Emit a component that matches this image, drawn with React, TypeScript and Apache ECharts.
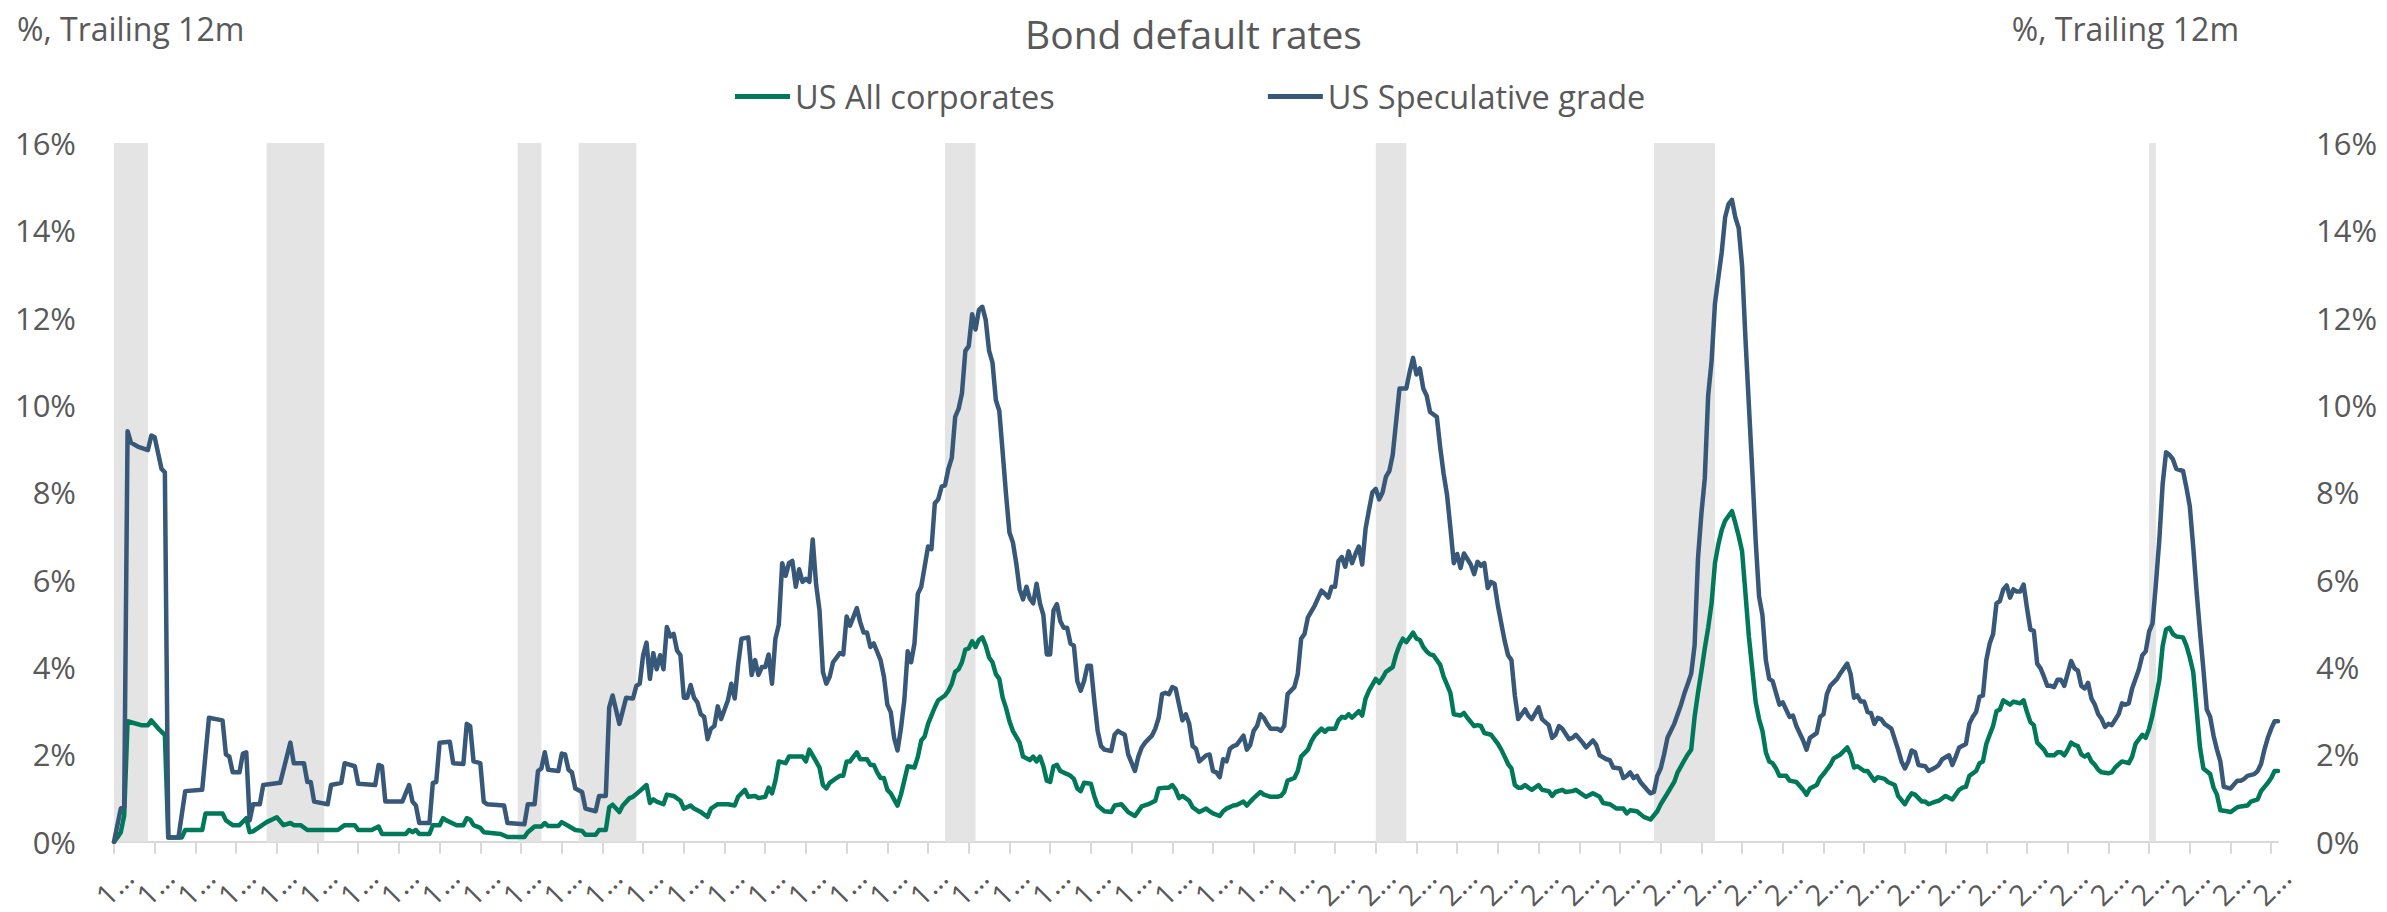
import React, { useEffect, useRef } from 'react';
import * as echarts from 'echarts';

const FONT = "'Open Sans', 'Noto Sans', sans-serif";
const TEXT_COLOR = '#595959';
const GREEN = '#00785A';
const BLUE = '#375878';
const BAND = '#e4e4e4';

// Monthly categories, Jan 1970 .. Mar 2023
const START_YEAR = 1970;
const MONTH_COUNT = 639;
const months: string[] = Array.from({ length: MONTH_COUNT }, (_, i) => {
  const y = START_YEAR + Math.floor(i / 12);
  const m = (i % 12) + 1;
  return `${y}-${m < 10 ? '0' + m : m}`;
});

const chartTitle = 'Bond default rates';
const axisUnit = '%, Trailing 12m';
const seriesNames = ['US All corporates', 'US Speculative grade'];

// Recession shading (first month, last month)
const recessions: [string, string][] = [
  ['1970-01', '1970-11'],
  ['1973-10', '1975-03'],
  ['1979-12', '1980-07'],
  ['1981-06', '1982-11'],
  ['1990-06', '1991-03'],
  ['2001-01', '2001-10'],
  ['2007-11', '2009-05'],
  ['2020-01', '2020-03'],
];

// [months since Jan 1970, default rate %]
const allCorporates: [number, number][] = [
  [0, 0], [1, 0.1], [2, 0.22], [3, 0.6], [4, 2.76], [8, 2.67], [10, 2.67], [11, 2.78], [13, 2.6], [14, 2.52], [15, 2.45],
  [16, 0.1], [20, 0.1], [21, 0.27], [26, 0.27], [27, 0.65], [32, 0.65], [33, 0.49], [35, 0.38], [37, 0.38], [39, 0.54],
  [40, 0.22], [41, 0.24], [45, 0.45], [48, 0.56], [50, 0.38], [52, 0.43], [53, 0.38], [55, 0.38], [57, 0.27], [66, 0.27],
  [68, 0.38], [71, 0.38], [72, 0.27], [76, 0.27], [78, 0.35], [79, 0.18], [86, 0.18], [87, 0.27], [88, 0.22], [89, 0.27],
  [90, 0.18], [93, 0.18], [94, 0.38], [96, 0.38], [97, 0.54], [98, 0.49], [101, 0.38], [103, 0.38], [104, 0.54], [105, 0.51],
  [106, 0.38], [108, 0.32], [109, 0.22], [114, 0.18], [116, 0.11], [121, 0.11], [122, 0.22], [124, 0.35], [126, 0.35],
  [127, 0.43], [128, 0.36], [131, 0.36], [132, 0.45], [134, 0.36], [136, 0.27], [138, 0.25], [139, 0.16], [142, 0.16],
  [143, 0.27], [145, 0.27], [146, 0.79], [147, 0.85], [149, 0.68], [150, 0.83], [152, 1.0], [153, 1.03], [155, 1.16],
  [157, 1.3], [158, 0.89], [159, 0.97], [160, 0.92], [162, 0.86], [163, 1.08], [165, 1.05], [167, 0.94], [168, 0.76],
  [170, 0.83], [171, 0.76], [173, 0.68], [175, 0.57], [176, 0.76], [178, 0.86], [181, 0.86], [183, 0.83], [184, 1.03],
  [186, 1.19], [187, 1.03], [189, 1.05], [190, 1.0], [192, 1.03], [193, 1.24], [194, 1.11], [195, 1.4], [196, 1.84],
  [198, 1.8], [199, 1.95], [203, 1.95], [204, 1.84], [205, 2.11], [207, 1.84], [208, 1.7], [209, 1.3], [210, 1.22],
  [211, 1.35], [213, 1.46], [214, 1.51], [215, 1.51], [216, 1.84], [217, 1.84], [219, 2.05], [220, 1.89], [222, 1.89],
  [223, 1.76], [224, 1.76], [225, 1.59], [226, 1.46], [227, 1.46], [228, 1.19], [229, 1.11], [231, 0.83], [232, 1.08],
  [233, 1.4], [234, 1.73], [236, 1.7], [237, 1.95], [238, 2.32], [239, 2.41], [240, 2.7], [242, 3.08], [243, 3.24],
  [245, 3.35], [246, 3.46], [247, 3.62], [248, 3.89], [249, 3.95], [250, 4.11], [251, 4.4], [252, 4.43], [253, 4.59],
  [254, 4.46], [255, 4.62], [256, 4.68], [257, 4.49], [258, 4.22], [259, 4.11], [260, 3.84], [261, 3.73], [262, 3.3],
  [263, 3.06], [264, 2.76], [265, 2.54], [267, 2.27], [268, 1.95], [270, 1.87], [271, 1.95], [272, 1.84], [273, 1.95],
  [274, 1.73], [275, 1.4], [276, 1.37], [277, 1.73], [278, 1.76], [279, 1.62], [281, 1.55], [282, 1.51], [283, 1.44],
  [284, 1.22], [285, 1.16], [286, 1.35], [288, 1.33], [289, 1.05], [290, 0.83], [292, 0.7], [294, 0.68], [295, 0.83],
  [297, 0.86], [299, 0.68], [301, 0.59], [303, 0.81], [305, 0.86], [307, 0.94], [308, 1.22], [310, 1.24], [311, 1.24],
  [312, 1.3], [313, 1.19], [314, 1.0], [315, 1.05], [317, 0.94], [318, 0.79], [320, 0.68], [322, 0.76], [323, 0.7],
  [324, 0.65], [326, 0.59], [327, 0.7], [328, 0.76], [330, 0.83], [331, 0.84], [333, 0.92], [334, 0.83], [335, 0.92],
  [336, 1.0], [338, 1.14], [339, 1.08], [341, 1.03], [343, 1.03], [344, 1.05], [345, 1.14], [346, 1.4], [348, 1.46],
  [349, 1.62], [350, 1.95], [352, 2.11], [353, 2.3], [354, 2.43], [356, 2.59], [357, 2.52], [358, 2.59], [360, 2.59],
  [361, 2.78], [362, 2.86], [363, 2.84], [364, 2.92], [365, 2.84], [367, 2.99], [368, 2.89], [369, 3.28], [370, 3.46],
  [372, 3.73], [373, 3.64], [374, 3.75], [375, 3.89], [377, 4.0], [378, 4.29], [379, 4.5], [380, 4.65], [381, 4.57],
  [383, 4.79], [384, 4.65], [385, 4.62], [386, 4.46], [387, 4.36], [388, 4.29], [389, 4.27], [391, 4.05], [392, 3.78],
  [393, 3.6], [394, 3.41], [395, 2.92], [397, 2.89], [398, 2.95], [399, 2.84], [401, 2.65], [402, 2.67], [403, 2.65],
  [404, 2.49], [406, 2.45], [408, 2.24], [409, 2.11], [410, 1.95], [411, 1.78], [412, 1.68], [413, 1.3], [414, 1.24],
  [415, 1.24], [416, 1.3], [417, 1.24], [418, 1.19], [420, 1.3], [421, 1.19], [423, 1.16], [424, 1.05], [425, 1.14],
  [427, 1.19], [428, 1.14], [430, 1.16], [431, 1.19], [433, 1.08], [434, 1.03], [436, 1.11], [438, 1.03], [439, 0.89],
  [441, 0.86], [443, 0.76], [445, 0.76], [446, 0.65], [447, 0.72], [449, 0.7], [451, 0.57], [453, 0.51], [455, 0.7],
  [456, 0.86], [458, 1.11], [460, 1.37], [461, 1.59], [463, 1.87], [464, 2.0], [465, 2.11], [466, 2.86], [467, 3.41],
  [468, 3.9], [469, 4.43], [470, 4.9], [471, 5.46], [472, 6.38], [473, 6.81], [474, 7.14], [475, 7.35], [476, 7.46],
  [477, 7.57], [478, 7.3], [479, 7.0], [480, 6.65], [481, 5.68], [482, 4.7], [483, 3.95], [484, 3.2], [485, 2.81],
  [486, 2.54], [487, 2.05], [488, 1.84], [489, 1.8], [490, 1.68], [491, 1.51], [493, 1.51], [494, 1.4], [496, 1.37],
  [498, 1.19], [499, 1.08], [500, 1.22], [502, 1.3], [503, 1.46], [504, 1.55], [506, 1.76], [507, 1.91], [509, 2.0],
  [511, 2.16], [512, 2.0], [513, 1.7], [514, 1.73], [516, 1.62], [517, 1.62], [518, 1.51], [519, 1.4], [520, 1.48],
  [522, 1.44], [523, 1.37], [525, 1.3], [526, 1.05], [528, 0.86], [529, 1.0], [530, 1.11], [531, 1.08], [533, 0.92],
  [534, 0.92], [535, 0.86], [537, 0.92], [538, 0.94], [540, 1.05], [542, 0.97], [543, 1.08], [544, 1.19], [545, 1.24],
  [546, 1.26], [547, 1.51], [549, 1.62], [550, 1.8], [551, 1.84], [552, 2.24], [553, 2.45], [554, 2.65], [555, 2.99],
  [556, 3.03], [557, 3.24], [559, 3.14], [560, 3.21], [561, 3.19], [562, 3.17], [563, 3.24], [564, 2.97], [565, 2.74],
  [566, 2.67], [567, 2.27], [568, 2.19], [569, 2.11], [570, 1.98], [572, 1.98], [573, 2.05], [574, 2.05], [575, 1.98],
  [576, 2.11], [577, 2.27], [578, 2.22], [579, 2.19], [580, 2.0], [581, 1.95], [582, 2.0], [583, 1.84], [584, 1.76],
  [585, 1.65], [586, 1.59], [588, 1.57], [589, 1.59], [590, 1.7], [592, 1.84], [594, 1.8], [595, 1.95], [596, 2.24],
  [598, 2.45], [599, 2.38], [600, 2.59], [601, 2.9], [602, 3.3], [603, 3.7], [604, 4.49], [605, 4.86], [606, 4.9],
  [607, 4.76], [608, 4.7], [610, 4.68], [611, 4.49], [612, 4.22], [613, 3.89], [614, 3.03], [615, 2.16], [616, 1.68],
  [618, 1.55], [619, 1.24], [620, 1.08], [621, 0.72], [623, 0.7], [624, 0.68], [626, 0.79], [627, 0.81], [629, 0.83],
  [630, 0.92], [632, 0.97], [633, 1.16], [635, 1.35], [636, 1.46], [637, 1.62], [638, 1.62],
];

const speculativeGrade: [number, number][] = [
  [0, 0], [2, 0.76], [3, 0.8], [4, 9.4], [5, 9.14], [7, 9.05], [10, 8.97], [11, 9.3], [12, 9.26], [14, 8.54], [15, 8.46],
  [16, 0.1], [19, 0.1], [21, 1.16], [26, 1.19], [28, 2.84], [32, 2.78], [33, 2.0], [34, 1.95], [35, 1.59], [37, 1.59],
  [38, 2.02], [39, 2.05], [40, 0.49], [41, 0.86], [43, 0.86], [44, 1.3], [49, 1.35], [52, 2.27], [53, 1.8], [56, 1.8],
  [57, 1.37], [58, 1.37], [59, 0.92], [63, 0.86], [64, 1.3], [67, 1.35], [68, 1.8], [71, 1.73], [72, 1.33], [77, 1.3],
  [78, 1.76], [79, 1.73], [80, 0.92], [85, 0.92], [87, 1.3], [88, 0.92], [89, 0.83], [90, 0.43], [93, 0.43], [94, 1.35],
  [95, 1.37], [96, 2.27], [99, 2.29], [100, 1.8], [103, 1.78], [104, 2.7], [105, 2.65], [106, 1.84], [108, 1.8],
  [109, 0.92], [110, 0.86], [115, 0.83], [116, 0.43], [121, 0.4], [122, 0.86], [124, 0.86], [125, 1.62], [126, 1.68],
  [127, 2.05], [128, 1.65], [131, 1.62], [132, 2.02], [133, 2.0], [134, 1.65], [135, 1.59], [136, 1.22], [138, 1.14],
  [139, 0.76], [142, 0.7], [143, 1.05], [145, 1.05], [146, 3.08], [147, 3.35], [149, 2.7], [151, 3.3], [153, 3.28],
  [154, 3.57], [155, 3.62], [156, 4.27], [157, 4.56], [158, 3.73], [159, 4.32], [160, 3.95], [161, 4.27], [162, 3.95],
  [163, 4.92], [164, 4.7], [165, 4.76], [166, 4.38], [167, 4.27], [168, 3.3], [169, 3.3], [170, 3.59], [171, 3.3],
  [172, 3.19], [173, 2.92], [174, 2.86], [175, 2.35], [176, 2.59], [177, 2.65], [178, 3.1], [179, 2.81], [181, 3.24],
  [182, 3.62], [183, 3.28], [184, 4.05], [185, 4.65], [187, 4.68], [188, 3.82], [189, 4.16], [190, 3.82], [191, 4.0],
  [192, 4.0], [193, 4.29], [194, 3.62], [195, 4.65], [196, 4.97], [197, 6.38], [198, 6.09], [199, 6.38], [200, 6.43],
  [201, 5.84], [202, 6.24], [203, 5.95], [204, 6.02], [205, 5.95], [206, 6.92], [207, 5.89], [208, 5.3], [209, 3.89],
  [210, 3.62], [211, 3.78], [212, 4.11], [214, 4.32], [215, 4.29], [216, 5.16], [217, 4.95], [219, 5.35], [220, 5.03],
  [221, 4.79], [222, 4.79], [223, 4.46], [224, 4.54], [226, 4.16], [227, 3.78], [228, 3.14], [229, 2.97], [230, 2.38],
  [231, 2.09], [232, 2.59], [233, 3.24], [234, 4.36], [235, 4.11], [236, 4.54], [237, 5.68], [238, 5.84], [240, 6.76],
  [241, 6.7], [242, 7.75], [243, 7.84], [244, 8.13], [245, 8.16], [246, 8.54], [247, 8.79], [248, 9.73], [249, 9.91],
  [250, 10.27], [251, 11.24], [252, 11.35], [253, 12.08], [254, 11.73], [255, 12.18], [256, 12.25], [257, 11.95],
  [258, 11.24], [259, 10.97], [260, 10.11], [261, 9.87], [262, 8.92], [263, 7.95], [264, 7.08], [265, 6.86], [266, 6.38],
  [267, 5.78], [268, 5.55], [269, 5.84], [270, 5.57], [271, 5.46], [272, 5.91], [273, 5.46], [274, 5.19], [275, 4.29],
  [276, 4.29], [277, 5.3], [278, 5.44], [279, 5.05], [280, 4.9], [281, 4.9], [282, 4.54], [283, 4.49], [284, 3.68],
  [285, 3.46], [286, 3.68], [287, 4.03], [288, 4.03], [289, 3.24], [290, 2.54], [291, 2.19], [292, 2.11], [294, 2.08],
  [295, 2.45], [296, 2.54], [297, 2.49], [298, 2.45], [299, 2.0], [301, 1.62], [302, 1.95], [303, 2.16], [304, 2.27],
  [306, 2.43], [307, 2.59], [308, 2.84], [309, 3.38], [310, 3.41], [311, 3.38], [312, 3.54], [313, 3.51], [314, 3.14],
  [315, 2.78], [316, 2.92], [317, 2.7], [318, 2.19], [319, 2.13], [320, 1.84], [322, 1.98], [323, 2.0], [324, 1.62],
  [325, 1.59], [326, 1.48], [327, 1.89], [328, 1.84], [329, 2.13], [330, 2.19], [331, 2.22], [333, 2.43], [334, 2.11],
  [335, 2.22], [336, 2.54], [337, 2.65], [338, 2.92], [339, 2.84], [340, 2.7], [341, 2.59], [343, 2.59], [344, 2.54],
  [345, 2.65], [346, 3.38], [347, 3.46], [348, 3.54], [349, 3.84], [350, 4.65], [351, 4.76], [352, 5.14], [354, 5.41],
  [356, 5.75], [357, 5.68], [358, 5.59], [359, 5.84], [360, 5.84], [361, 6.43], [362, 6.52], [363, 6.3], [364, 6.65],
  [365, 6.38], [366, 6.59], [367, 6.76], [368, 6.35], [369, 7.17], [370, 7.6], [371, 8.0], [372, 8.08], [373, 7.84],
  [374, 8.0], [375, 8.36], [376, 8.49], [377, 8.86], [378, 9.62], [379, 10.38], [381, 10.38], [382, 10.76], [383, 11.08],
  [384, 10.7], [385, 10.84], [386, 10.38], [387, 10.22], [388, 9.84], [390, 9.73], [391, 9.03], [392, 8.43], [393, 7.95],
  [394, 7.19], [395, 6.38], [396, 6.59], [397, 6.27], [398, 6.6], [400, 6.35], [401, 6.13], [402, 6.41], [403, 6.32],
  [404, 6.38], [405, 5.81], [406, 5.95], [407, 5.91], [408, 5.41], [409, 5.0], [410, 4.6], [411, 4.27], [412, 4.16],
  [413, 3.35], [414, 2.81], [415, 2.92], [416, 3.03], [417, 2.89], [418, 2.81], [420, 3.08], [421, 2.81], [422, 2.74],
  [423, 2.67], [424, 2.38], [425, 2.45], [426, 2.65], [427, 2.59], [429, 2.35], [430, 2.38], [431, 2.45], [433, 2.27],
  [434, 2.16], [436, 2.32], [437, 2.22], [438, 1.98], [440, 1.89], [441, 1.87], [442, 1.7], [444, 1.68], [445, 1.46],
  [446, 1.51], [447, 1.59], [448, 1.46], [449, 1.51], [450, 1.37], [452, 1.19], [453, 1.11], [454, 1.14], [455, 1.51],
  [456, 1.68], [457, 2.0], [458, 2.38], [460, 2.7], [462, 3.14], [463, 3.4], [464, 3.62], [465, 3.85], [466, 4.5],
  [467, 6.49], [468, 7.51], [469, 8.32], [470, 10.22], [471, 11.0], [472, 12.32], [473, 12.92], [474, 13.5], [475, 14.3],
  [476, 14.6], [477, 14.7], [478, 14.3], [479, 14.05], [480, 13.19], [481, 11.51], [482, 10.0], [483, 8.5], [484, 6.9],
  [485, 5.62], [486, 5.19], [487, 4.16], [488, 3.73], [489, 3.68], [490, 3.41], [491, 3.14], [492, 3.19], [494, 2.86],
  [495, 2.89], [496, 2.65], [498, 2.32], [499, 2.11], [500, 2.38], [502, 2.49], [503, 2.86], [504, 2.92], [505, 3.38],
  [506, 3.57], [508, 3.73], [509, 3.86], [510, 3.97], [511, 4.08], [512, 3.84], [513, 3.3], [514, 3.35], [515, 3.21],
  [516, 3.21], [517, 2.97], [518, 2.95], [519, 2.7], [520, 2.84], [521, 2.81], [522, 2.7], [524, 2.59], [526, 2.11],
  [527, 1.84], [528, 1.68], [529, 1.84], [530, 2.09], [531, 2.05], [532, 1.76], [534, 1.73], [535, 1.62], [537, 1.7],
  [538, 1.76], [539, 1.89], [541, 1.98], [542, 1.76], [543, 1.95], [544, 2.16], [546, 2.24], [547, 2.7], [548, 2.86],
  [549, 2.97], [550, 3.32], [551, 3.35], [552, 4.16], [553, 4.54], [554, 4.76], [555, 5.46], [556, 5.51], [557, 5.78],
  [558, 5.87], [559, 5.59], [560, 5.78], [561, 5.73], [562, 5.73], [563, 5.89], [564, 5.35], [565, 4.86], [566, 4.83],
  [567, 4.08], [568, 3.97], [569, 3.78], [570, 3.57], [571, 3.57], [572, 3.54], [573, 3.71], [574, 3.71], [575, 3.57],
  [577, 4.14], [578, 3.97], [579, 3.92], [580, 3.57], [581, 3.51], [582, 3.64], [583, 3.28], [584, 3.14], [585, 2.92],
  [586, 2.81], [587, 2.63], [588, 2.7], [589, 2.67], [591, 2.92], [592, 3.17], [593, 3.14], [594, 3.17], [595, 3.51],
  [597, 3.95], [598, 4.27], [599, 4.36], [600, 4.81], [601, 5.0], [602, 5.9], [603, 6.9], [604, 8.2], [605, 8.92],
  [606, 8.86], [607, 8.76], [608, 8.54], [610, 8.49], [611, 8.11], [612, 7.68], [613, 6.76], [614, 5.73], [615, 4.81],
  [616, 3.95], [617, 3.03], [618, 2.86], [619, 2.43], [620, 2.11], [621, 1.84], [622, 1.26], [623, 1.24], [624, 1.22],
  [626, 1.4], [627, 1.4], [628, 1.44], [629, 1.51], [631, 1.55], [632, 1.62], [633, 1.78], [634, 2.11], [635, 2.38],
  [636, 2.59], [637, 2.76], [638, 2.76],
];

const Y_MIN = 0;
const Y_MAX = 16;
const Y_STEP = 2;

export default function App() {
  const ref = useRef<HTMLDivElement>(null);

  useEffect(() => {
    if (!ref.current) return;
    const chart = echarts.init(ref.current, null, { renderer: 'svg' });

    const yAxisBase = {
      type: 'value',
      min: Y_MIN,
      max: Y_MAX,
      interval: Y_STEP,
      splitLine: { show: false },
      axisLine: { show: false },
      axisTick: { show: false },
      axisLabel: {
        formatter: '{value}%',
        fontSize: 31,
        color: TEXT_COLOR,
        fontFamily: FONT,
        margin: 38,
      },
    };

    chart.setOption({
      animation: false,
      backgroundColor: '#ffffff',
      textStyle: { fontFamily: FONT },
      title: {
        text: chartTitle,
        left: 'center',
        top: 9,
        padding: 5,
        textStyle: { fontSize: 39, fontWeight: 'normal', color: TEXT_COLOR, fontFamily: FONT },
      },
      legend: {
        data: seriesNames,
        left: 730,
        top: 75,
        icon: 'rect',
        itemWidth: 55,
        itemHeight: 5,
        itemGap: 213,
        textStyle: { fontSize: 32.5, color: TEXT_COLOR, fontFamily: FONT },
      },
      graphic: [
        {
          type: 'text',
          left: 17,
          top: 12,
          style: { text: axisUnit, fontSize: 32, fill: TEXT_COLOR, fontFamily: FONT },
        },
        {
          type: 'text',
          right: 2387 - 2239,
          top: 12,
          style: { text: axisUnit, fontSize: 32, fill: TEXT_COLOR, fontFamily: FONT },
        },
      ],
      grid: { left: 114, right: 109, top: 143, bottom: 62, containLabel: false },
      xAxis: {
        type: 'category',
        data: months,
        boundaryGap: false,
        axisLine: { lineStyle: { color: '#d9d9d9', width: 2 } },
        axisTick: {
          show: true,
          length: 12,
          interval: (i: number) => i % 12 === 0,
          lineStyle: { color: '#d9d9d9', width: 2 },
        },
        axisLabel: {
          interval: 0,
          rotate: 45,
          align: 'center',
          verticalAlign: 'middle',
          margin: 44,
          fontSize: 29,
          color: TEXT_COLOR,
          fontFamily: FONT,
          formatter: (v: string, i: number) => (i % 12 === 0 ? v.charAt(0) + '…' : ''),
        },
        splitLine: { show: false },
      },
      yAxis: [
        { ...yAxisBase, position: 'left' },
        { ...yAxisBase, position: 'right' },
      ],
      series: [
        {
          name: seriesNames[0],
          type: 'line',
          yAxisIndex: 0,
          showSymbol: false,
          symbol: 'none',
          data: allCorporates.map(([m, v]) => [months[m], v]),
          lineStyle: { width: 4.5, color: GREEN, join: 'round', cap: 'round' },
          itemStyle: { color: GREEN },
          markArea: {
            silent: true,
            itemStyle: { color: BAND },
            data: recessions.map(([a, b]) => [{ xAxis: a }, { xAxis: b }]),
          },
        },
        {
          name: seriesNames[1],
          type: 'line',
          yAxisIndex: 0,
          showSymbol: false,
          symbol: 'none',
          data: speculativeGrade.map(([m, v]) => [months[m], v]),
          lineStyle: { width: 4.5, color: BLUE, join: 'round', cap: 'round' },
          itemStyle: { color: BLUE },
        },
      ],
    });

    return () => chart.dispose();
  }, []);

  return (
    <div
      ref={ref}
      style={{ position: 'fixed', left: 0, top: 0, width: 2387, height: 912, background: '#ffffff' }}
    />
  );
}
